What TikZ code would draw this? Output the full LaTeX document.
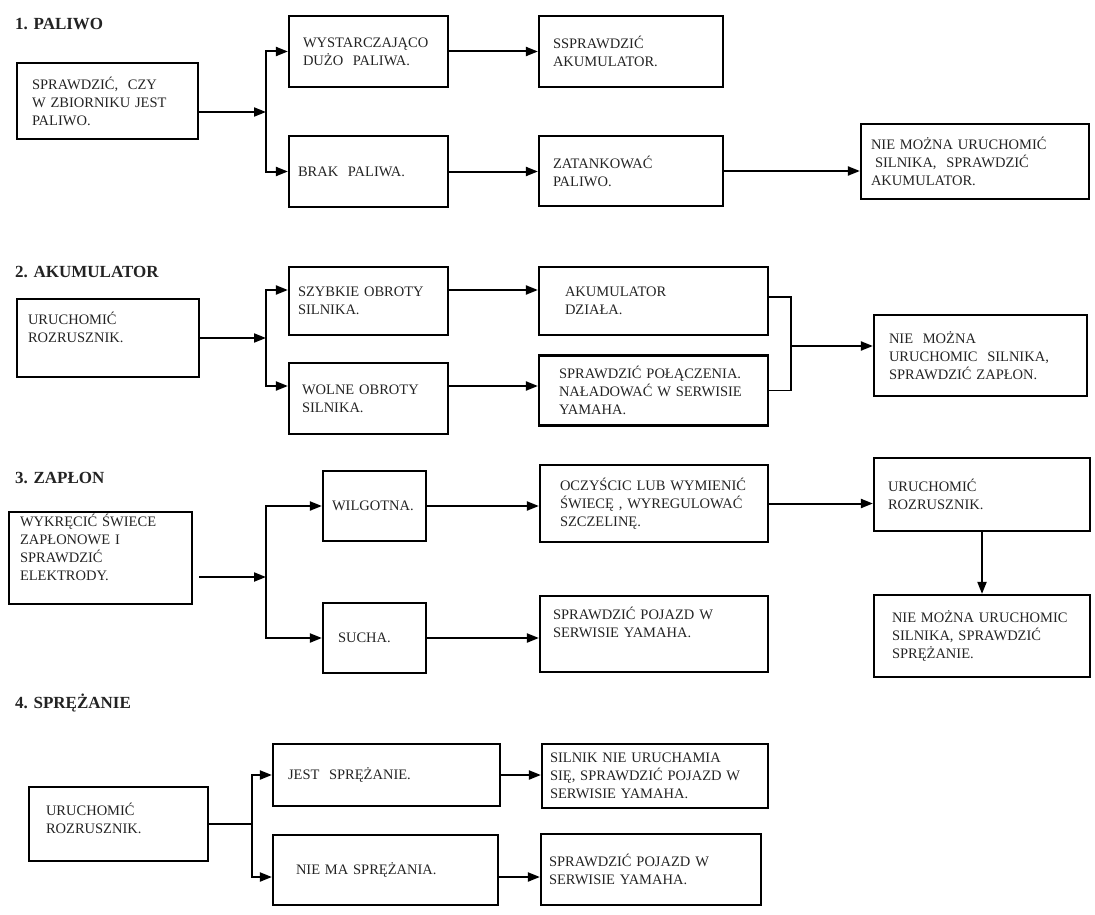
\documentclass[tikz,border=0pt]{standalone}
\usepackage{fontspec}
\setmainfont{Liberation Serif}
\usepackage{tikz}
\usetikzlibrary{arrows.meta}
\definecolor{ytext}{RGB}{35,35,35}

\begin{document}
\begin{tikzpicture}[x=1pt, y=-1pt, >={Triangle[length=12pt,width=9pt]},
    every node/.style={font=\fontsize{14.5}{18}\selectfont, text=ytext},
    box/.style={draw=black, line width=2.2pt, align=left, inner ysep=2pt},
    title/.style={font=\fontsize{17}{20}\selectfont\bfseries, anchor=west, inner sep=0pt},
    link/.style={line width=2pt}]
        \useasboundingbox (0,0) rectangle (1095,915);

        \node[title] (t1) at (15,24) {1. PALIWO};
        \node[box, minimum width=181pt, minimum height=76pt, text width=151pt, inner xsep=15pt] (src1) at (107.5,101) {SPRAWDZIĆ,~ CZY\\W ZBIORNIKU JEST\\PALIWO.};
        \node[box, minimum width=159pt, minimum height=71pt, text width=131pt, inner xsep=14pt] (ok1) at (368.5,51.5) {WYSTARCZAJĄCO\\DUŻO~ PALIWA.};
        \node[box, minimum width=159pt, minimum height=71pt, text width=141pt, inner xsep=9pt] (no1) at (368.5,171.5) {BRAK~ PALIWA.};
        \node[box, minimum width=184pt, minimum height=71pt, text width=156pt, inner xsep=14pt] (bat1) at (631,51.5) {SSPRAWDZIĆ\\AKUMULATOR.};
        \node[box, minimum width=184pt, minimum height=70pt, text width=156pt, inner xsep=14pt] (fuel1) at (631,171) {ZATANKOWAĆ\\PALIWO.};
        \node[box, minimum width=228pt, minimum height=75pt, text width=208pt, inner xsep=10pt] (end1) at (975,161.5) {NIE MOŻNA URUCHOMIĆ\\\hspace*{4pt}SILNIKA,~ SPRAWDZIĆ\\AKUMULATOR.};
        \coordinate (j1) at (266,112);
        \draw[link,->] (src1.east |- j1) -- (j1);
        \draw[link,->] (j1) |- (ok1.west);
        \draw[link,->] (j1) |- (no1.west);
        \draw[link,->] (ok1) -- (bat1);
        \draw[link,->] (no1.east) -- (no1.east -| fuel1.west);
        \draw[link,->] (fuel1.east) -- (fuel1.east -| end1.west);

        \node[title] (t2) at (15,272) {2. AKUMULATOR};
        \node[box, minimum width=182pt, minimum height=78pt, text width=160pt, inner xsep=11pt] (src2) at (108,338) {URUCHOMIĆ\\ROZRUSZNIK.\\[4pt]\mbox{}};
        \node[box, minimum width=159pt, minimum height=68pt, text width=141pt, inner xsep=9pt] (fast2) at (368.5,301) {SZYBKIE OBROTY\\SILNIKA.};
        \node[box, minimum width=159pt, minimum height=71pt, text width=133pt, inner xsep=13pt] (slow2) at (368.5,398.5) {WOLNE OBROTY\\SILNIKA.};
        \node[box, minimum width=229pt, minimum height=68pt, text width=177pt, inner xsep=26pt] (ok2) at (653.5,301) {AKUMULATOR\\DZIAŁA.};
        \node[box, minimum width=229pt, minimum height=70pt, text width=189pt, inner xsep=20pt] (chk2) at (653.5,390.5) {SPRAWDZIĆ POŁĄCZENIA.\\NAŁADOWAĆ W SERWISIE\\YAMAHA.};
        \node[box, minimum width=213pt, minimum height=81pt, text width=183pt, inner xsep=15pt] (end2) at (980.5,355.5) {NIE~ MOŻNA\\URUCHOMIC~ SILNIKA,\\SPRAWDZIĆ ZAPŁON.};
        \coordinate (j2) at (266,338);
        \coordinate (m2) at (791,346);
        \draw[link,->] (src2.east |- j2) -- (j2);
        \draw[link,->] (j2) |- ([yshift=11pt]fast2.west);
        \draw[link,->] (j2) |- ([yshift=12.5pt]slow2.west);
        \draw[link,->] ([yshift=11pt]fast2.east) -- ([yshift=11pt]fast2.east -| ok2.west);
        \draw[link,->] ([yshift=12.5pt]slow2.east) -- ([yshift=12.5pt]slow2.east -| chk2.west);
        \draw[line width=1.5pt] ([yshift=4pt]ok2.east) -| (m2) |- (chk2.east);
        \draw[link,->] (m2) -- (m2 -| end2.west);

        \node[title] (t3) at (15,478) {3. ZAPŁON};
        \node[box, minimum width=183pt, minimum height=90pt, text width=161pt, inner xsep=11pt] (src3) at (100.5,558) {WYKRĘCIĆ ŚWIECE\\ZAPŁONOWE I\\SPRAWDZIĆ\\ELEKTRODY.\\[4pt]\mbox{}};
        \node[box, minimum width=103pt, minimum height=70pt, text width=85pt, inner xsep=9pt] (wet3) at (374.5,506) {WILGOTNA.};
        \node[box, minimum width=103pt, minimum height=70pt, text width=73pt, inner xsep=15pt] (dry3) at (374.5,638) {SUCHA.};
        \node[box, minimum width=228pt, minimum height=77pt, text width=188pt, inner xsep=20pt] (clean3) at (654,503.5) {OCZYŚCIC LUB WYMIENIĆ\\ŚWIECĘ , WYREGULOWAĆ\\SZCZELINĘ.};
        \node[box, minimum width=228pt, minimum height=76pt, text width=202pt, inner xsep=13pt] (check3) at (654,634) {SPRAWDZIĆ POJAZD W\\SERWISIE YAMAHA.\\[6pt]\mbox{}};
        \node[box, minimum width=216pt, minimum height=73pt, text width=188pt, inner xsep=14pt] (start3) at (982,494.5) {URUCHOMIĆ\\ROZRUSZNIK.};
        \node[box, minimum width=216pt, minimum height=82pt, text width=180pt, inner xsep=18pt] (fail3) at (982,636) {NIE MOŻNA URUCHOMIC\\SILNIKA, SPRAWDZIĆ\\SPRĘŻANIE.};
        \coordinate (j3) at (266,577);
        \draw[link,->, shorten <=6pt] (src3.east |- j3) -- (j3);
        \draw[link,->] (j3) |- (wet3.west);
        \draw[link,->] (j3) |- (dry3.west);
        \draw[link,->] (wet3.east) -- (wet3.east -| clean3.west);
        \draw[link,->] (dry3.east) -- (dry3.east -| check3.west);
        \draw[link,->] (clean3.east) -- (clean3.east -| start3.west);
        \draw[link,->] (start3) -- (fail3);

        \node[title] (t4) at (15,703) {4. SPRĘŻANIE};
        \node[box, minimum width=179pt, minimum height=74pt, text width=145pt, inner xsep=17pt] (src4) at (118.5,824) {URUCHOMIĆ\\ROZRUSZNIK.\\[-6pt]\mbox{}};
        \node[box, minimum width=227pt, minimum height=62pt, text width=197pt, inner xsep=15pt] (yes4) at (386.5,775) {JEST~ SPRĘŻANIE.};
        \node[box, minimum width=225pt, minimum height=70pt, text width=179pt, inner xsep=23pt] (none4) at (385.5,870) {NIE MA SPRĘŻANIA.};
        \node[box, minimum width=226pt, minimum height=64pt, text width=210pt, inner xsep=8pt] (svc4) at (655,776) {SILNIK NIE URUCHAMIA\\SIĘ, SPRAWDZIĆ POJAZD W\\SERWISIE YAMAHA.};
        \node[box, minimum width=220pt, minimum height=71pt, text width=204pt, inner xsep=8pt] (shop4) at (651,869.5) {SPRAWDZIĆ POJAZD W\\SERWISIE YAMAHA.};
        \coordinate (j4) at (252,824);
        \draw[link] (src4.east |- j4) -- (j4);
        \draw[link,->] (j4) |- (yes4.west);
        \draw[link,->] (j4) |- ([yshift=-7pt]none4.west);
        \draw[link,->] (yes4.east) -- (yes4.east -| svc4.west);
        \draw[link,->] ([yshift=-7pt]none4.east) -- ([yshift=-7pt]none4.east -| shop4.west);
      \end{tikzpicture}
\end{document}
